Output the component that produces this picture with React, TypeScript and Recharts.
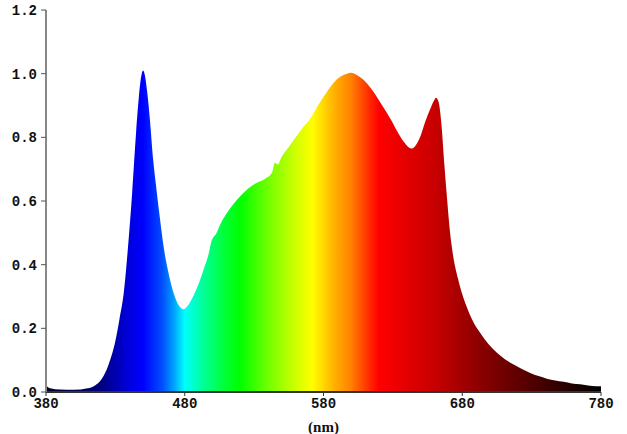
import { AreaChart, Area, XAxis, YAxis } from 'recharts';

// wavelength (nm) and relative intensity
const WAVELENGTHS = [
  380, 383, 390, 400, 410, 415, 420, 425, 430, 433, 436, 439, 442, 445, 447, 449, 450, 451,
  453, 455, 457, 459, 462, 465, 468, 472, 476, 479, 482, 486, 490, 494, 497, 499, 503, 506,
  510, 515, 520, 526, 532, 538, 543, 545, 547, 550, 555, 560, 565, 570, 576, 582, 587, 592,
  597, 600, 604, 609, 614, 618, 623, 628, 633, 638, 641, 644, 647, 650, 653, 657, 660, 661,
  663, 665, 667, 669, 671, 673, 677, 683, 688, 693, 699, 705, 711, 717, 723, 729, 735, 741,
  747, 753, 759, 765, 772, 780,
];
const INTENSITY = [
  0.02, 0.012, 0.008, 0.007, 0.012, 0.02, 0.04, 0.085, 0.16, 0.23, 0.31, 0.45, 0.62, 0.82, 0.93, 1.0, 1.01, 1.0,
  0.94, 0.85, 0.74, 0.66, 0.55, 0.45, 0.38, 0.31, 0.27, 0.26, 0.27, 0.3, 0.34, 0.39, 0.43, 0.47, 0.5, 0.53,
  0.56, 0.59, 0.615, 0.64, 0.657, 0.67, 0.69, 0.72, 0.715, 0.74, 0.77, 0.8, 0.83, 0.856, 0.9, 0.94, 0.97, 0.99,
  1.0, 1.003, 0.996, 0.98, 0.955, 0.93, 0.895, 0.86, 0.82, 0.785, 0.77, 0.765, 0.778, 0.805, 0.845, 0.89, 0.918, 0.924,
  0.91, 0.84, 0.72, 0.61, 0.51, 0.44, 0.355, 0.27, 0.22, 0.185, 0.15, 0.123, 0.102, 0.086, 0.072, 0.06, 0.05, 0.042,
  0.036, 0.032, 0.027, 0.024, 0.02, 0.018,
];
const X_TICKS = [380, 480, 580, 680, 780];
const Y_TICKS = [0, 0.2, 0.4, 0.6, 0.8, 1.0, 1.2];

// spectrum colours across 380..780 nm
const SPECTRUM: [number, string][] = [
  [380, '#000020'],
  [420, '#000080'],
  [440, '#0000e0'],
  [450, '#0000ff'],
  [464, '#0050ff'],
  [472, '#00a0ff'],
  [480, '#00ffff'],
  [492, '#00ffa0'],
  [510, '#00ff30'],
  [520, '#00ff00'],
  [540, '#70ff00'],
  [560, '#d0ff00'],
  [572, '#ffff00'],
  [588, '#ffb000'],
  [600, '#ff8000'],
  [612, '#ff3000'],
  [620, '#ff0000'],
  [660, '#c80000'],
  [690, '#900000'],
  [730, '#500000'],
  [780, '#000000'],
];

const data = WAVELENGTHS.map((nm, i) => ({ nm, v: INTENSITY[i] }));

const tickFont = {
  fontFamily: '"Liberation Mono", monospace',
  fontWeight: 'bold' as const,
  fontSize: 14,
  fill: '#111',
};

export default function App() {
  return (
    <div style={{ position: 'absolute', left: 0, top: 0, background: '#fff' }}>
      <AreaChart
        width={627}
        height={434}
        data={data}
        margin={{ top: 10, right: 26, left: 0, bottom: 0 }}
      >
        <defs>
          <linearGradient id="spectrum" x1="0" y1="0" x2="1" y2="0">
            {SPECTRUM.map(([nm, c]) => (
              <stop key={nm} offset={`${((nm - 380) / 400) * 100}%`} stopColor={c} />
            ))}
          </linearGradient>
        </defs>
        <XAxis
          dataKey="nm"
          type="number"
          domain={[380, 780]}
          ticks={X_TICKS}
          height={42}
          tick={tickFont}
          tickSize={4}
          tickMargin={2}
          axisLine={{ stroke: '#333', strokeWidth: 2 }}
          tickLine={{ stroke: '#333' }}
          label={{
            value: '(nm)',
            position: 'insideBottom',
            offset: 2,
            style: {
              fontFamily: '"Liberation Serif", serif',
              fontWeight: 'bold',
              fontSize: 15,
              fill: '#111',
            },
          }}
        />
        <YAxis
          type="number"
          domain={[0, 1.2]}
          ticks={Y_TICKS}
          width={46}
          tick={tickFont}
          tickSize={5}
          tickMargin={4}
          tickFormatter={(v: number) => v.toFixed(1)}
          axisLine={{ stroke: '#888', strokeWidth: 2 }}
          tickLine={{ stroke: '#555' }}
        />
        <Area
          type="monotone"
          dataKey="v"
          stroke="none"
          fill="url(#spectrum)"
          fillOpacity={1}
          isAnimationActive={false}
        />
      </AreaChart>
    </div>
  );
}
